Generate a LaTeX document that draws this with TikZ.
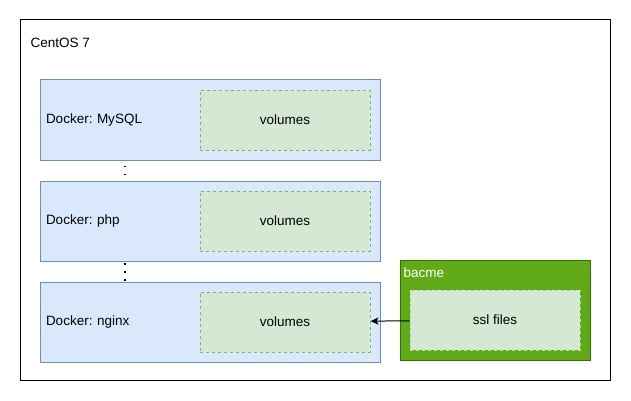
\documentclass[tikz,border=0pt]{standalone}
\usepackage{fontspec}
\setmainfont{Liberation Sans}
\usetikzlibrary{arrows.meta, positioning}

\definecolor{dockfill}{HTML}{DAE8FC}
\definecolor{dockline}{HTML}{6C8EBF}
\definecolor{volfill}{HTML}{D5E8D4}
\definecolor{volline}{HTML}{82B366}
\definecolor{grpfill}{HTML}{60A917}
\definecolor{grpline}{HTML}{2D7600}

\frenchspacing
\begin{document}
\begin{tikzpicture}[
  x=1pt, y=-1pt,
  every node/.style = {font=\fontsize{13.5}{16}\selectfont},
  host/.style   = {draw, line width=1pt, minimum width=590pt, minimum height=360pt},
  dock/.style   = {draw=dockline, fill=dockfill, line width=1pt, minimum width=340pt,
                   minimum height=80pt, inner sep=6pt, text width=328pt, align=left},
  vol/.style    = {draw=volline, fill=volfill, line width=0.8pt, dashed,
                   minimum width=170pt, minimum height=60pt},
  grp/.style    = {draw=grpline, fill=grpfill, line width=1pt, minimum width=190pt,
                   minimum height=100pt},
  dots/.style   = {line width=1.6pt, dash pattern=on 1.6pt off 6.5pt, dash phase=-5pt},
  arr/.style    = {-{Stealth[length=8pt, width=7pt, inset=2pt]}, line width=1pt},
]
  \useasboundingbox (0,0) rectangle (631,401);

  \node[host] (centos) at (315,200) {};
  \node[anchor=west] (centoslbl) at (27,43) {CentOS 7};

  \node[dock] (mysql) at (210,120) {Docker: MySQL};
  \node[dock, below=20pt of mysql] (php)   {Docker: php};
  \node[dock, below=20pt of php]   (nginx) {Docker: nginx};

  \node[vol, left=10pt of mysql.east, anchor=east] (vmysql) {volumes};
  \node[vol, left=10pt of php.east, anchor=east]   (vphp)   {volumes};
  \node[vol, left=10pt of nginx.east, anchor=east] (vnginx) {volumes};

  \node[grp] (bacme) at (495,310) {};
  \node[anchor=west, text=white] (bacmelbl) at (400,273) {bacme};
  \node[vol, draw=volfill!70!grpfill, below=30pt of bacme.north, anchor=north] (ssl) {ssl files};

  \draw[dots] ([xshift=-85pt]mysql.south) -- ([xshift=-85pt]php.north);
  \draw[dots, dash phase=-1.5pt] ([xshift=-85pt]php.south) -- ([xshift=-85pt]nginx.north);
  \draw[arr] (ssl) -- (vnginx);
\end{tikzpicture}
\end{document}
